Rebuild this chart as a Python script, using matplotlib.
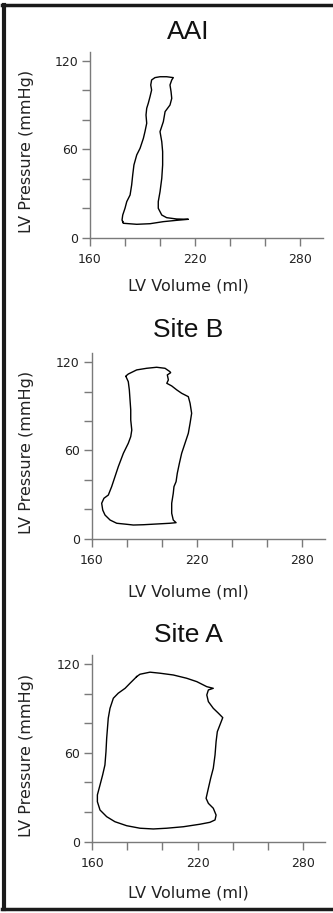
import matplotlib.pyplot as plt
from matplotlib.lines import Line2D

# pressure-volume loops (volume in ml, pressure in mmHg)
aai_volume = [178.7, 179.0, 186.7, 194.3, 201.9, 209.5, 216.2, 209.5, 203.8, 201.0,
              199.0, 199.0, 200.0, 201.0, 201.5, 201.5, 201.0, 200.0, 201.9, 202.9,
              205.7, 206.7, 206.3, 205.7, 206.7, 207.6, 203.8, 200.0, 197.1, 195.2,
              194.7, 195.2, 194.3, 193.3, 192.4, 192.0, 192.4, 191.4, 190.5, 188.6,
              186.7, 185.1, 184.4, 183.8, 182.9, 181.0, 180.0, 178.7, 178.3, 178.7]
aai_pressure = [10.9, 9.8, 9.1, 9.5, 10.9, 11.8, 12.5, 12.7, 13.6, 15.4,
                20.0, 24.5, 31.2, 40.3, 49.4, 58.4, 65.2, 72.0, 78.8, 85.6,
                90.1, 94.6, 99.2, 103.7, 107.1, 108.7, 109.3, 109.3, 108.7, 107.1,
                103.7, 100.3, 95.8, 91.3, 87.9, 83.3, 77.7, 72.0, 67.5, 60.7,
                56.2, 49.4, 42.6, 35.8, 29.0, 24.5, 20.0, 15.4, 12.0, 10.9]

site_b_volume = [179.6, 180.9, 185.7, 191.4, 197.1, 201.9, 204.7, 205.1, 203.2, 203.8,
                 202.9, 205.7, 208.6, 211.4, 215.2, 216.2, 217.1, 216.2, 215.2, 213.3,
                 211.4, 210.1, 208.9, 208.2, 207.0, 206.6, 205.7, 205.7, 206.6, 208.2,
                 204.7, 197.1, 189.5, 183.8, 180.0, 174.3, 170.5, 167.6, 166.3, 165.7,
                 167.0, 169.5, 171.4, 173.3, 175.2, 178.1, 180.9, 182.3, 182.9, 182.3,
                 182.3, 181.9, 181.5, 180.9, 179.6]
site_b_pressure = [110.7, 112.0, 114.8, 115.9, 116.6, 115.9, 113.6, 112.9, 111.4, 108.0,
                   105.7, 103.9, 101.2, 98.9, 96.6, 92.1, 85.3, 78.5, 71.7, 64.9,
                   58.1, 51.3, 44.5, 38.8, 35.4, 30.9, 24.1, 17.3, 12.7, 10.9,
                   10.5, 10.0, 9.5, 9.3, 9.8, 10.5, 12.7, 16.1, 19.5, 24.1,
                   27.5, 29.7, 35.4, 42.2, 49.0, 58.1, 64.9, 69.4, 73.9, 80.7,
                   87.6, 94.4, 101.2, 106.8, 110.2]

site_a_volume = [185.3, 187.2, 192.9, 198.6, 206.2, 213.8, 219.6, 225.3, 229.0, 226.2,
                 225.3, 226.2, 229.0, 231.9, 234.4, 232.8, 231.3, 230.6, 230.0, 229.0,
                 227.5, 226.2, 224.9, 226.2, 229.0, 230.6, 230.0, 227.1, 221.4, 211.9,
                 202.4, 194.8, 187.2, 179.6, 172.9, 168.2, 164.4, 162.9, 162.9, 164.4,
                 165.9, 167.2, 167.8, 168.2, 168.8, 169.1, 170.1, 172.0, 174.8, 178.7,
                 181.5, 184.4, 185.3]
site_a_pressure = [111.5, 113.1, 114.5, 113.8, 112.6, 110.4, 108.1, 104.7, 103.6, 102.5,
                   99.1, 94.6, 90.1, 86.8, 83.8, 78.9, 74.3, 67.6, 58.6, 49.6,
                   42.8, 36.1, 29.3, 25.9, 22.6, 18.0, 14.7, 13.1, 11.8, 10.1,
                   9.1, 8.6, 9.1, 10.8, 13.5, 16.9, 21.4, 27.0, 31.6, 38.3,
                   45.1, 51.8, 60.8, 69.9, 78.9, 83.4, 90.1, 96.9, 100.3, 103.6,
                   107.0, 110.4, 111.5]

titles = ['AAI', 'Site B', 'Site A']
x_ticks = [160, 180, 200, 220, 240, 260, 280]
x_ticklabels = ['160', '', '', '220', '', '', '280']
y_ticks = [0, 20, 40, 60, 80, 100, 120]
y_ticklabels = ['0', '', '', '60', '', '', '120']

loops = [(aai_volume, aai_pressure), (site_b_volume, site_b_pressure),
         (site_a_volume, site_a_pressure)]

W, H = 333, 913
# axes boxes in pixels: left, bottom (from top), width, height
boxes = [(90, 237.7, 232.8, 186.0), (91.7, 538.7, 232.8, 185.7), (92.3, 841.7, 233.2, 187.0)]
title_base = [39.3, 337.3, 641.7]
xlabel_top = [279, 584.3, 885]

fig = plt.figure(figsize=(W / 100, H / 100), dpi=100)

for i in range(3):
    l, b, w, h = boxes[i]
    ax = fig.add_axes([l / W, 1 - b / H, w / W, h / H])
    vol, pres = loops[i]
    ax.plot(vol, pres, color='black', lw=1.0)
    ax.set_xlim(160, 293)
    ax.set_ylim(0, 126.3)
    ax.set_xticks(x_ticks)
    ax.set_xticklabels(x_ticklabels)
    ax.set_yticks(y_ticks)
    ax.set_yticklabels(y_ticklabels)
    for s in ['top', 'right']:
        ax.spines[s].set_visible(False)
    for s in ['left', 'bottom']:
        ax.spines[s].set_color('#7a7a7a')
        ax.spines[s].set_linewidth(1.0)
    ax.tick_params(axis='both', color='#7a7a7a', length=6, width=1.0,
                   labelsize=9, labelcolor='#222222')
    ax.tick_params(axis='x', pad=5)
    ax.tick_params(axis='y', pad=2.5)
    ax.set_xlabel('LV Volume (ml)', fontsize=11.5, color='#222222')
    ax.set_ylabel('LV Pressure (mmHg)', fontsize=11.5, color='#222222')
    ax.xaxis.set_label_coords((188.3 - l) / w, -(xlabel_top[i] - b) / h)
    ax.yaxis.set_label_coords((34 - l) / w, 0.462)
    fig.text(188 / W, 1 - title_base[i] / H, titles[i], ha='center', va='baseline',
             fontsize=19, family='Liberation Sans', color='#111111')

# frame around the figure (left, top and bottom edges)
fig.add_artist(Line2D([3.7 / W, 3.7 / W], [1 - 5 / H, 1 - 909.3 / H], color='#1a1a1a', lw=3,
                      transform=fig.transFigure))
fig.add_artist(Line2D([2 / W, 1], [1 - 5 / H, 1 - 5 / H], color='#1a1a1a', lw=2.5,
                      transform=fig.transFigure))
fig.add_artist(Line2D([2 / W, 1], [1 - 909.3 / H, 1 - 909.3 / H], color='#1a1a1a', lw=2.5,
                      transform=fig.transFigure))

fig.savefig('out.png', dpi=100)
